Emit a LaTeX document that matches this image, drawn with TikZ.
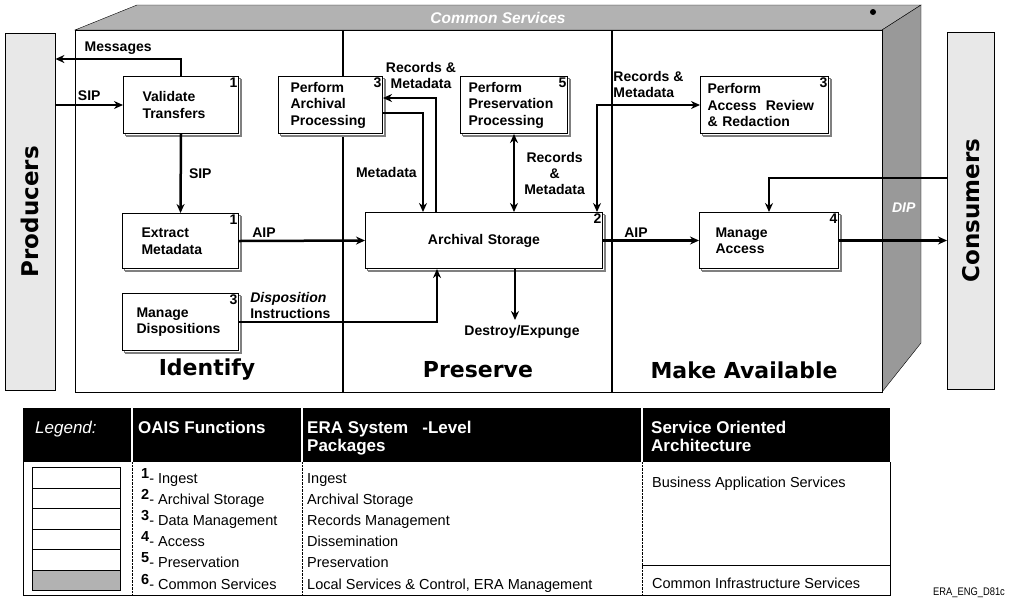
\documentclass[tikz,border=0pt]{standalone}
\usepackage{fontspec}
\setmainfont{Liberation Sans}
\newfontfamily\heavyfont{DejaVu Sans}
\usetikzlibrary{arrows.meta,calc,shadows}

\begin{document}
\begin{tikzpicture}
  [
    x=1pt, y=-1pt,
    fbox/.style =
      {draw, fill=white, line width=1pt, align=left, anchor=north west,
       minimum height=57pt, inner ysep=2pt,
       font=\fontsize{14}{16.5}\selectfont\bfseries,
       double copy shadow={shadow xshift=1.5pt, shadow yshift=-1.5pt,
                           draw=gray, fill=white}},
    num/.style =
      {label={[anchor=north east, inner sep=1.5pt,
               font=\fontsize{14}{14}\selectfont\bfseries]north east:#1}},
    ext/.style =
      {draw, fill=gray!18, anchor=north west, minimum height=357pt},
    flow/.style =
      {line width=2.5pt, >={Stealth[length=9pt, width=8pt]}},
    lbl/.style =
      {font=\fontsize{14}{16}\selectfont\bfseries, inner sep=1pt},
    sect/.style =
      {font=\heavyfont\bfseries\fontsize{22}{25}\selectfont},
    hcell/.style =
      {fill=black, anchor=north west, minimum height=54pt, inner sep=0pt},
    htext/.style =
      {font=\fontsize{17}{18}\selectfont\bfseries, text=white,
       anchor=north west, align=left, inner sep=0pt},
    btext/.style =
      {font=\fontsize{14.5}{16}\selectfont, anchor=base west, inner sep=0pt},
    lgbox/.style =
      {draw, fill=white, anchor=north west, minimum width=88pt,
       minimum height=20.5pt, inner sep=0pt}
  ]

\useasboundingbox (0,0) rectangle (1009,614);

% the cube
\filldraw[fill=gray!60] (75,30) -- (137,5) -- (921,5) -- (882,30) -- cycle;
\filldraw[fill=gray!80] (882,30) -- (921,5) -- (921,343) -- (882,392) -- cycle;
\draw[fill=white, line width=1pt] (75,30) rectangle (882,392);
\fill (873,12) circle (3pt);
\node[lbl, text=white, font=\fontsize{15.5}{16}\selectfont\bfseries] (cs) at (498,18) {\textit{Common Services}};

\draw[line width=2.5pt] (343,30) -- (343,392);
\draw[line width=2.5pt] (612,30) -- (612,392);

\node[sect] (sid) at (207,370) {Identify};
\node[sect] (spr) at (478,370) {Preserve};
\node[sect] (sma) at (744,370) {Make Available};

% outside entities
\node[ext, minimum width=50pt,
      label={[rotate=90, anchor=center, sect, font=\heavyfont\bfseries\fontsize{23}{25}\selectfont]center:Producers}] (prod) at (5,33) {};
\node[ext, minimum width=47pt,
      label={[rotate=90, anchor=center, sect, font=\heavyfont\bfseries\fontsize{23}{25}\selectfont]center:Consumers}] (cons) at (947,32) {};

% functions
\node[fbox, num=1, text width=77pt, inner xsep=19pt] (vt) at (123,76) {Validate\\Transfers};
\node[fbox, num=3, text width=80pt, inner xsep=12pt] (pap) at (278,76) {Perform\\Archival\\Processing};
\node[fbox, num=5, text width=91pt, inner xsep=8pt] (ppp) at (460,76) {Perform\\Preservation\\Processing};
\node[fbox, num=3, text width=114pt, inner xsep=7pt] (ar) at (700,76) {Perform\\Access~~Review\\\& Redaction};
\node[fbox, num=1, text width=78pt, inner xsep=19pt, minimum height=55pt] (em) at (122,213) {Extract\\Metadata};
\node[fbox, num=3, text width=88pt, inner xsep=14pt] (md) at (122,293) {Manage\\Dispositions};
\node[fbox, num=2, text width=237pt, inner xsep=0pt, align=center, minimum height=56pt] (as) at (365,212) {Archival Storage};
\node[fbox, num=4, text width=107pt, inner xsep=16pt, minimum height=56pt] (ma) at (699,212) {Manage\\Access};

% flows
\draw[flow, ->] (vt.north) |- (prod.east |- 0,59) node[lbl, above=2pt, pos=0.75] {Messages};
\draw[flow, ->] (prod.east |- vt.west) -- (vt.west) node[lbl, above=2pt, midway] {SIP};
\draw[flow, ->] (vt.south) -- (em.north) node[lbl, right=6pt, midway] {SIP};
\draw[flow, ->] (em.east) -- (as.west) node[lbl, above right=1pt, pos=0, xshift=10pt] {AIP};
\draw[flow, ->] (md.east) -| (as.south -| 437,0)
  node[lbl, above right=1pt, pos=0, xshift=8pt, align=left] {\textit{Disposition}\\Instructions};

\draw[flow, ->] (as.north -| 436,0) |- (pap.east |- 0,98)
  node[lbl, pos=0.5, above=7pt, xshift=-15pt, align=center] {Records \&\\Metadata};
\draw[flow, ->] (pap.east |- 0,113) -| (as.north -| 423,0) node[lbl, left=4pt, pos=0.8] {Metadata};
\draw[flow, <->] (ppp.south) -- (ppp.south |- as.north)
  node[lbl, right=8pt, midway, align=center] {Records\\\&\\Metadata};

\coordinate (dx) at (515,320);
\draw[flow, ->] (as.south -| dx) -- (dx);
\node[lbl, anchor=north] (dest) at (522,324) {Destroy/Expunge};

\draw[flow, <->] (ar.west) -| (as.north -| 597,0)
  node[lbl, pos=0.25, above=5pt, align=left] {Records \&\\Metadata};
\draw[flow, ->] (as.east) -- (ma.west) node[lbl, above right=1pt, pos=0, xshift=18pt] {AIP};
\draw[flow, ->] (cons.west |- 0,178) -| (ma.north);
\draw[flow, ->] (ma.east) -- (ma.east -| cons.west)
  node[lbl, pos=0.6, above=26pt, text=white] {\textit{DIP}};

% legend
\node[hcell, minimum width=108pt] (hleg) at (23,408) {};
\node[hcell, minimum width=168pt] (hoais) at (133,408) {};
\node[hcell, minimum width=338pt] (hera) at (303,408) {};
\node[hcell, minimum width=247pt] (hsoa) at (643,408) {};
\node[htext, font=\fontsize{17}{18}\selectfont\itshape] (tleg) at ($(hleg.north west)+(12,13)$) {Legend:};
\node[htext] (toais) at ($(hoais.north west)+(5,13)$) {OAIS Functions};
\node[htext] (tera) at ($(hera.north west)+(4,13)$) {ERA System\ \ \ -Level\\Packages};
\node[htext] (tsoa) at ($(hsoa.north west)+(8,13)$) {Service Oriented\\Architecture};

\draw[thin] (23,462) -- (23,595) -- (890,595) -- (890,462);
\draw[thin, densely dotted] (132,462) -- (132,595);
\draw[thin, densely dotted] (302,462) -- (302,595);
\draw[thin, densely dotted] (642,462) -- (642,595);
\draw[thin] (642,565) -- (890,565);

\foreach \k in {0,...,4}
  \node[lgbox] (lb\k) at (32,{467+20.5*\k}) {};
\node[lgbox, fill=gray!60] (lb5) at (32,{467+20.5*5}) {};

\foreach \no/\lab [count=\k from 0] in {1/Ingest, 2/Archival Storage, 3/Data Management,
    4/Access, 5/Preservation, 6/Common Services}
  \node[btext] (oa\k) at (141,{483+21.2*\k}) {\raisebox{5pt}{\bfseries\no}- \lab};

\foreach \lab [count=\k from 0] in {Ingest, Archival Storage, Records Management,
    Dissemination, Preservation, {Local Services \& Control, ERA Management}}
  \node[btext] (era\k) at (307,{483+21.2*\k}) {\lab};

\node[btext] (bas) at (652,487) {Business Application Services};
\node[btext] (cis) at (652,588) {Common Infrastructure Services};

\node[font=\fontsize{11}{11}\selectfont, anchor=base west, inner sep=0pt] (fid) at (933,595)
  {\scalebox{0.85}[1]{ERA\_ENG\_D81c}};

\end{tikzpicture}
\end{document}
